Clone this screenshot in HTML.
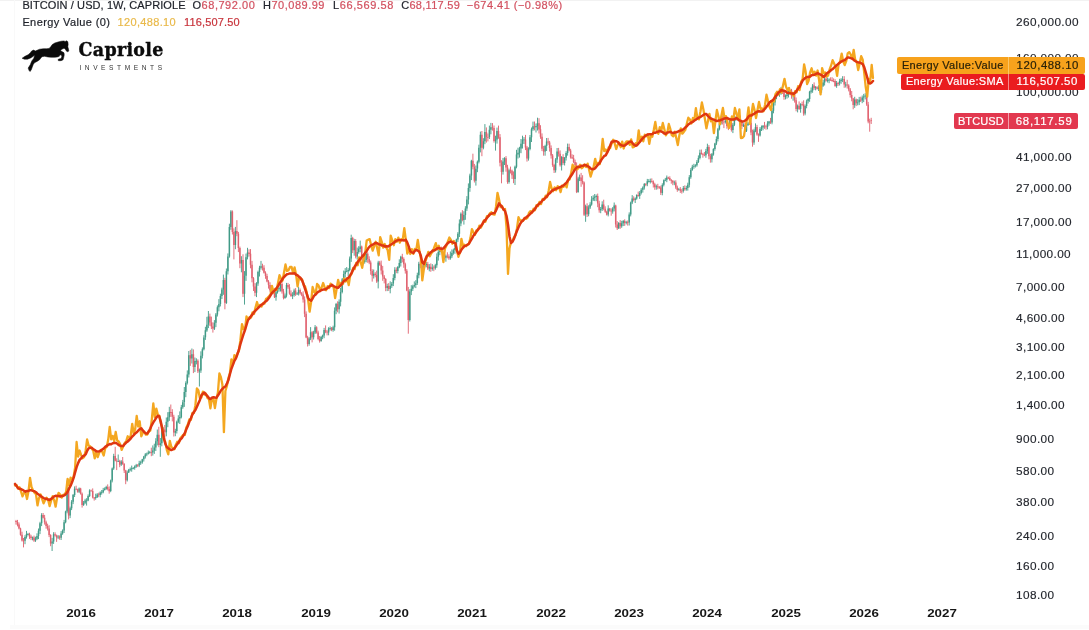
<!DOCTYPE html>
<html lang="en">
<head>
<meta charset="utf-8">
<title>BITCOIN / USD, 1W, CAPRIOLE</title>
<style>
html,body{margin:0;padding:0;background:#fff;}
body{width:1089px;height:630px;position:relative;overflow:hidden;font-family:"Liberation Sans",Arial,sans-serif;color:#1e222d;}
.chart{position:absolute;left:0;top:0;}
.t{position:absolute;white-space:nowrap;}
.leg{font-size:11px;line-height:14px;color:#1d2028;-webkit-text-stroke:0.2px;}
.leg .r{color:#d2505f;}
.leg .k{color:#23262f;}
.ax{font-size:11.8px;line-height:14px;color:#24272e;left:1016.1px;letter-spacing:0.37px;-webkit-text-stroke:0.15px;}
.yr{font-size:11.7px;line-height:14px;font-weight:bold;color:#161616;width:60px;text-align:center;transform:scaleX(1.14);transform-origin:50% 50%;}
.lab{position:absolute;border-radius:2px;font-size:11.4px;line-height:16px;height:16px;-webkit-text-stroke:0.2px;}
.lab span{position:absolute;top:0;white-space:nowrap;}
.vline{position:absolute;left:13.5px;top:0;width:1.5px;height:626px;background:#f9f9f9;}
.hline{position:absolute;left:10px;top:624.5px;width:1079px;height:4px;background:#fbfbfb;}
.tline{position:absolute;left:0;top:0;width:1089px;height:1px;background:#f2f2f2;}
</style>
</head>
<body>
<div class="tline"></div><div class="vline"></div><div class="hline"></div>
<svg class="chart" width="1089" height="630" viewBox="0 0 1089 630">
<g stroke-linecap="butt" style="filter:blur(0.35px)">
<path d="M25.0 535.2V544.2M26.5 530.9V538.6M28.0 532.9V535.5M32.5 536.6V540.3M35.5 536.7V541.9M37.0 533.3V540.1M38.5 528.5V539.1M40.0 521.8V534.1M41.6 513.2V526.1M52.1 537.9V551.0M53.6 532.2V543.9M58.1 535.0V539.1M61.1 531.1V540.0M62.6 529.4V534.8M64.1 519.9V533.0M65.6 510.7V523.3M67.1 480.5V513.3M70.1 506.6V518.1M71.6 500.1V510.1M73.1 494.2V504.1M74.6 486.4V497.0M79.1 487.5V493.0M83.6 501.0V505.9M85.1 498.8V504.1M86.6 498.2V505.6M88.1 494.4V501.2M89.6 489.3V497.0M95.7 493.7V499.7M97.2 493.1V498.0M100.2 491.4V497.3M101.7 490.0V494.6M103.2 487.9V493.3M104.7 487.4V490.6M106.2 485.8V489.8M110.7 479.6V492.2M112.2 467.5V482.4M113.7 453.8V469.9M118.2 454.5V462.0M121.2 460.1V466.0M127.2 470.6V481.5M128.7 468.9V473.0M130.2 467.5V471.3M131.7 465.6V471.7M133.2 467.0V469.3M134.7 465.4V469.7M136.2 463.9V467.8M139.2 460.8V467.1M140.7 460.7V464.9M142.3 458.8V463.7M143.8 455.9V461.5M145.3 453.1V458.5M146.8 452.6V456.2M148.3 450.5V454.5M149.8 450.9V453.7M152.8 445.4V455.6M154.3 443.7V453.9M155.8 438.2V451.0M157.3 429.5V445.4M160.3 438.0V456.8M161.8 428.8V446.3M163.3 427.4V431.9M166.3 417.5V436.3M167.8 412.2V427.2M169.3 406.8V420.9M175.3 428.8V436.2M176.8 420.6V433.5M178.3 415.2V423.2M179.8 411.4V424.0M181.3 404.9V418.4M182.8 399.9V408.8M184.3 387.0V406.9M185.8 381.3V397.2M187.3 370.4V384.5M188.8 351.0V377.5M191.9 348.5V363.5M194.9 357.5V372.1M196.4 358.3V364.4M199.4 368.6V386.5M200.9 351.3V372.9M202.4 347.4V358.4M203.9 335.2V350.4M205.4 326.8V339.9M206.9 316.8V331.9M208.4 311.0V328.1M214.4 320.1V330.0M215.9 313.0V327.1M217.4 305.4V316.5M218.9 299.1V311.3M220.4 293.7V306.4M221.9 287.7V299.0M223.4 274.6V294.8M226.4 268.5V303.9M227.9 253.4V274.5M229.4 223.7V257.7M230.9 210.1V229.8M235.4 226.9V249.2M241.4 256.2V272.3M244.5 271.1V304.6M246.0 253.6V280.9M247.5 247.8V259.4M256.5 282.2V297.1M258.0 270.7V285.8M259.5 265.8V276.5M261.0 260.9V269.6M276.0 289.3V300.7M277.5 287.8V293.6M279.0 286.7V291.6M280.5 281.8V291.5M285.0 293.5V298.8M286.5 282.9V297.5M292.6 292.2V299.1M294.1 288.7V296.7M297.1 292.1V295.0M298.6 286.8V295.5M309.1 337.1V345.7M310.6 327.1V340.1M313.6 330.8V339.5M315.1 325.1V334.0M321.1 335.9V341.8M322.6 334.6V339.2M324.1 327.9V338.2M328.6 327.2V335.3M330.1 326.4V330.6M333.1 325.7V331.7M334.6 307.4V330.7M336.1 302.9V314.2M339.1 299.4V313.6M340.6 287.9V306.4M342.2 278.0V293.4M343.7 270.6V284.3M345.2 268.1V277.7M346.7 267.1V272.3M348.2 268.2V276.2M349.7 256.5V271.3M351.2 234.7V261.9M354.2 238.8V255.7M357.2 247.6V259.6M358.7 246.2V253.7M360.2 240.6V252.3M364.7 255.7V263.6M366.2 251.7V262.3M373.7 269.5V278.5M378.2 260.8V288.4M387.2 283.7V291.1M390.2 281.3V293.3M391.8 282.0V287.9M393.3 274.2V286.1M394.8 267.2V280.3M397.8 266.1V273.4M399.3 259.3V268.2M400.8 255.8V266.5M409.8 289.2V321.5M411.3 285.2V295.1M412.8 284.7V290.9M414.3 281.4V287.5M415.8 280.2V288.1M417.3 272.7V284.9M418.8 261.8V278.3M423.3 263.9V273.9M424.8 261.4V267.2M426.3 262.0V267.3M429.3 264.1V271.3M432.3 264.1V270.7M435.3 263.8V269.7M436.8 253.4V267.8M438.3 250.1V260.6M439.8 248.6V255.2M445.9 254.5V261.7M450.4 251.5V259.7M451.9 249.4V258.1M453.4 248.6V254.7M454.9 244.7V253.8M456.4 238.6V251.3M457.9 232.1V241.9M459.4 219.4V237.0M460.9 212.4V226.2M463.9 211.2V224.6M465.4 206.2V219.8M466.9 196.1V210.9M468.4 183.4V204.4M469.9 173.7V191.8M471.4 159.8V180.1M475.9 165.5V185.6M477.4 160.5V172.2M478.9 144.7V163.4M480.4 131.6V152.4M483.4 138.2V149.3M484.9 124.1V144.2M489.4 125.6V139.0M490.9 122.9V134.3M495.5 135.7V150.6M497.0 127.6V143.6M503.0 157.9V174.6M504.5 157.2V165.0M509.0 168.7V183.6M515.0 165.6V185.0M516.5 149.8V168.3M518.0 147.7V158.5M519.5 146.8V157.6M521.0 139.0V153.2M522.5 135.7V148.5M524.0 137.1V144.0M528.5 147.3V160.6M530.0 135.0V150.3M531.5 127.5V142.0M533.0 121.6V130.8M536.0 123.5V132.5M537.5 117.7V130.5M545.1 144.8V155.7M546.6 138.0V151.0M555.6 158.1V172.6M557.1 148.0V162.9M561.6 156.1V170.5M564.6 157.0V165.5M566.1 151.2V160.5M567.6 143.6V155.6M578.1 176.8V192.8M579.6 174.6V181.1M585.6 204.7V221.8M588.6 205.3V216.3M590.1 202.2V209.0M591.6 196.1V205.7M593.2 195.3V201.0M594.7 194.0V201.1M596.2 194.5V201.2M600.7 207.0V213.2M602.2 201.3V210.9M608.2 205.3V216.4M612.7 207.1V213.7M614.2 202.5V211.4M618.7 222.1V229.0M621.7 220.8V227.8M623.2 220.0V226.1M626.2 220.8V224.4M629.2 212.4V225.5M630.7 201.6V216.4M632.2 195.1V204.1M635.2 197.4V203.0M636.7 194.3V199.7M639.7 191.1V198.9M641.2 188.1V194.5M642.8 186.4V192.6M644.3 183.0V189.6M647.3 178.9V186.2M648.8 179.1V182.5M650.3 178.6V183.5M656.3 184.6V189.7M662.3 183.3V195.3M663.8 179.4V186.4M665.3 177.9V181.2M666.8 175.5V182.2M674.3 180.6V185.2M678.8 187.9V190.7M683.3 186.0V192.6M686.3 185.8V190.7M687.8 182.7V190.6M689.3 175.1V187.4M690.8 168.1V178.8M692.3 164.8V170.8M693.9 163.8V168.8M695.4 164.2V167.5M696.9 160.1V166.7M698.4 155.4V163.0M699.9 149.7V159.4M705.9 148.9V157.8M707.4 143.7V153.8M711.9 153.0V162.5M713.4 148.2V155.7M714.9 142.8V150.7M716.4 136.4V145.1M717.9 127.9V141.4M719.4 121.6V130.4M720.9 118.3V124.9M725.4 116.8V123.5M729.9 118.2V127.5M732.9 123.0V133.1M734.4 116.0V126.1M735.9 116.2V120.9M743.5 123.3V127.0M746.5 124.0V132.0M748.0 122.0V126.0M749.5 117.3V124.6M754.0 128.8V144.8M755.5 123.4V132.2M760.0 127.1V136.5M761.5 125.5V131.0M763.0 125.1V130.3M767.5 121.2V129.3M769.0 120.9V125.7M772.0 108.0V124.3M773.5 101.3V113.3M775.0 95.6V105.5M776.5 91.1V99.2M779.5 91.1V96.8M781.0 86.9V94.9M785.5 94.5V99.4M787.0 92.2V98.6M788.5 88.4V97.5M790.0 89.7V92.4M793.1 92.5V100.7M797.6 104.5V112.4M800.6 103.2V112.7M805.1 104.5V115.3M806.6 99.6V108.3M808.1 98.2V103.5M809.6 90.8V101.8M811.1 87.5V93.5M812.6 84.0V92.8M815.6 86.1V90.3M818.6 85.2V91.0M821.6 85.1V92.7M823.1 79.9V86.9M824.6 76.0V85.5M827.6 77.5V82.5M829.1 78.3V83.2M836.6 81.0V87.8M839.6 78.8V85.5M841.1 78.2V83.8M842.6 76.2V82.1M845.7 81.8V87.5M854.7 96.8V107.9M857.7 99.1V105.4M859.2 96.9V105.1M862.2 95.5V103.2M863.7 93.9V102.1M865.2 93.2V99.4" stroke="#3f9a86" stroke-width="1" fill="none" opacity="0.9"/>
<path d="M25.0 537.1v3.7M26.5 534.0v3.1M28.0 534.0v0.8M32.5 537.5v0.8M35.5 538.7v1.7M37.0 536.0v2.7M38.5 530.7v5.3M40.0 523.3v7.4M41.6 515.1v8.2M52.1 541.4v2.2M53.6 534.3v7.1M58.1 536.4v1.0M61.1 533.5v4.3M62.6 530.5v3.0M64.1 522.3v8.2M65.6 511.6v10.7M67.1 487.8v23.8M70.1 508.3v7.2M71.6 501.7v6.6M73.1 494.8v6.9M74.6 488.8v6.1M79.1 488.4v3.4M83.6 502.8v2.2M85.1 500.6v2.2M86.6 500.5v0.8M88.1 496.0v4.5M89.6 490.5v5.5M95.7 497.1v0.8M97.2 494.4v2.8M100.2 492.4v2.7M101.7 492.3v0.8M103.2 490.0v2.3M104.7 488.7v1.3M106.2 486.9v1.8M110.7 480.6v10.5M112.2 468.4v12.2M113.7 456.1v12.3M118.2 461.0v0.8M121.2 461.4v3.2M127.2 472.5v7.8M128.7 469.7v2.8M130.2 469.3v0.8M131.7 468.2v1.1M133.2 467.9v0.8M134.7 466.4v1.5M136.2 465.3v1.1M139.2 463.2v2.4M140.7 462.3v0.9M142.3 459.3v3.0M143.8 456.5v2.8M145.3 454.6v1.9M146.8 453.8v0.8M148.3 452.6v1.1M149.8 451.9v0.8M152.8 450.5v2.1M154.3 447.5v3.0M155.8 441.3v6.3M157.3 434.8v6.5M160.3 443.3v1.7M161.8 430.5v12.8M163.3 429.6v0.9M166.3 421.8v10.5M167.8 417.2v4.6M169.3 412.1v5.1M175.3 431.0v1.7M176.8 421.8v9.2M178.3 418.6v3.2M179.8 417.1v1.4M181.3 407.2v10.0M182.8 402.2v5.0M184.3 392.1v10.0M185.8 383.0v9.1M187.3 374.5v8.5M188.8 355.2v19.4M191.9 354.3v4.3M194.9 361.0v5.9M196.4 360.8v0.8M199.4 370.6v0.8M200.9 355.7v14.8M202.4 349.3v6.5M203.9 337.4v11.9M205.4 330.3v7.0M206.9 324.8v5.6M208.4 316.4v8.4M214.4 322.8v5.9M215.9 314.4v8.4M217.4 307.2v7.2M218.9 304.1v3.1M220.4 295.9v8.2M221.9 289.4v6.5M223.4 279.9v9.5M226.4 271.2v31.7M227.9 256.6v14.6M229.4 227.0v29.6M230.9 211.6v15.4M235.4 230.9v14.1M241.4 260.0v3.4M244.5 275.9v17.9M246.0 257.2v18.6M247.5 252.5v4.8M256.5 283.6v9.2M258.0 272.1v11.4M259.5 267.8v4.3M261.0 266.3v1.5M276.0 292.3v5.0M277.5 289.3v3.0M279.0 288.1v1.1M280.5 284.0v4.1M285.0 295.6v2.5M286.5 285.0v10.6M292.6 294.9v1.0M294.1 290.5v4.4M297.1 293.5v0.8M298.6 289.9v3.7M309.1 338.4v5.7M310.6 332.3v6.1M313.6 332.5v4.8M315.1 327.3v5.2M321.1 337.0v4.0M322.6 335.4v1.5M324.1 329.9v5.6M328.6 328.5v3.9M330.1 328.2v0.8M333.1 327.2v2.7M334.6 310.7v16.5M336.1 303.9v6.8M339.1 301.7v7.6M340.6 291.9v9.8M342.2 279.3v12.6M343.7 274.1v5.2M345.2 271.3v2.8M346.7 271.2v0.8M348.2 269.9v1.3M349.7 258.5v11.4M351.2 237.9v20.6M354.2 241.1v9.2M357.2 252.0v4.4M358.7 248.8v3.1M360.2 246.6v2.3M364.7 259.9v2.0M366.2 253.8v6.1M373.7 273.8v2.0M378.2 262.4v19.1M387.2 285.9v2.0M390.2 285.7v3.3M391.8 283.7v2.0M393.3 278.0v5.6M394.8 269.8v8.3M397.8 267.1v3.9M399.3 263.0v4.2M400.8 256.7v6.2M409.8 291.5v28.5M411.3 288.8v2.7M412.8 286.2v2.6M414.3 284.9v1.3M415.8 283.2v1.8M417.3 275.2v7.9M418.8 263.7v11.5M423.3 265.6v4.5M424.8 265.1v0.8M426.3 264.0v1.1M429.3 266.7v1.8M432.3 267.4v1.6M435.3 265.3v2.9M436.8 256.8v8.5M438.3 252.0v4.8M439.8 250.3v1.7M445.9 255.8v2.0M450.4 256.3v2.0M451.9 252.9v3.4M453.4 250.2v2.7M454.9 248.0v2.1M456.4 239.6v8.4M457.9 233.8v5.8M459.4 223.6v10.2M460.9 213.8v9.8M463.9 215.0v5.0M465.4 208.5v6.5M466.9 199.4v9.1M468.4 187.9v11.5M469.9 175.5v12.4M471.4 160.8v14.7M475.9 168.7v12.1M477.4 161.8v6.8M478.9 147.7v14.1M480.4 134.7v13.0M483.4 141.3v6.5M484.9 132.1v9.2M489.4 129.8v7.3M490.9 127.3v2.5M495.5 139.6v1.6M497.0 130.9v8.7M503.0 161.5v10.3M504.5 158.3v3.2M509.0 170.2v11.9M515.0 166.8v12.3M516.5 154.6v12.2M518.0 152.7v1.9M519.5 148.6v4.1M521.0 143.8v4.7M522.5 139.8v4.0M524.0 139.5v0.8M528.5 149.1v9.4M530.0 137.3v11.8M531.5 129.2v8.1M533.0 126.2v3.0M536.0 126.0v1.3M537.5 123.2v2.8M545.1 146.1v5.3M546.6 141.5v4.6M555.6 159.6v10.6M557.1 151.4v8.2M561.6 157.1v8.1M564.6 157.7v5.3M566.1 152.9v4.9M567.6 147.0v5.9M578.1 178.4v13.6M579.6 177.5v0.9M585.6 206.3v8.3M588.6 207.5v6.8M590.1 204.4v3.1M591.6 199.5v4.9M593.2 197.7v1.8M594.7 196.8v0.9M596.2 196.1v0.8M600.7 209.0v1.2M602.2 204.4v4.5M608.2 208.6v6.0M612.7 208.5v2.9M614.2 205.5v2.9M618.7 223.1v5.1M621.7 223.3v3.0M623.2 220.9v2.4M626.2 222.2v0.8M629.2 214.5v7.9M630.7 202.4v12.1M632.2 198.5v3.9M635.2 198.4v1.7M636.7 195.0v3.4M639.7 193.1v2.9M641.2 189.7v3.4M642.8 187.5v2.2M644.3 184.0v3.5M647.3 181.2v3.0M648.8 181.0v0.8M650.3 180.9v0.8M656.3 186.2v1.1M662.3 184.9v8.0M663.8 180.2v4.6M665.3 179.8v0.8M666.8 177.6v2.2M674.3 182.4v0.8M678.8 189.3v0.8M683.3 187.9v3.2M686.3 188.1v1.1M687.8 184.8v3.3M689.3 177.2v7.6M690.8 170.0v7.2M692.3 166.7v3.3M693.9 166.0v0.8M695.4 165.3v0.8M696.9 162.0v3.2M698.4 158.0v4.0M699.9 152.7v5.3M705.9 151.0v4.3M707.4 146.9v4.1M711.9 154.3v5.0M713.4 149.0v5.4M714.9 143.5v5.4M716.4 138.9v4.6M717.9 129.2v9.7M719.4 123.7v5.5M720.9 120.1v3.5M725.4 120.8v1.1M729.9 121.0v5.0M732.9 124.7v5.2M734.4 118.5v6.2M735.9 117.7v0.9M743.5 125.1v1.2M746.5 125.0v5.7M748.0 123.5v1.4M749.5 122.8v0.8M754.0 130.4v12.0M755.5 127.0v3.4M760.0 129.0v6.5M761.5 127.5v1.5M763.0 125.8v1.7M767.5 123.5v3.5M769.0 121.6v1.9M772.0 110.8v11.7M773.5 102.6v8.2M775.0 97.1v5.5M776.5 93.0v4.1M779.5 93.2v0.8M781.0 89.7v3.5M785.5 95.9v1.2M787.0 94.5v1.4M788.5 90.9v3.6M790.0 90.5v0.8M793.1 94.9v0.8M797.6 105.7v3.4M800.6 103.9v5.1M805.1 105.9v7.7M806.6 101.4v4.5M808.1 99.0v2.3M809.6 91.7v7.3M811.1 90.6v1.1M812.6 85.6v5.0M815.6 87.2v0.8M818.6 87.6v1.2M821.6 85.8v4.4M823.1 82.4v3.4M824.6 78.7v3.7M827.6 80.1v0.8M829.1 79.6v0.8M836.6 83.1v2.9M839.6 81.1v2.1M841.1 79.8v1.3M842.6 78.9v0.9M845.7 84.6v0.8M854.7 99.4v5.8M857.7 102.4v0.9M859.2 99.7v2.6M862.2 97.6v2.9M863.7 96.5v1.1M865.2 95.4v1.1" stroke="#3f9a86" stroke-width="1.5" fill="none" opacity="0.95"/>
<path d="M16.0 519.9V524.6M17.5 519.9V526.4M19.0 522.5V529.4M20.5 527.7V535.7M22.0 531.7V541.5M23.5 538.0V547.4M29.5 532.8V538.9M31.0 534.8V540.1M34.0 535.6V541.9M43.1 513.0V518.5M44.6 514.9V524.6M46.1 520.7V528.7M47.6 523.7V530.5M49.1 525.2V537.1M50.6 534.2V546.2M55.1 532.3V536.6M56.6 534.6V541.9M59.6 535.4V539.7M68.6 487.2V519.4M76.1 485.7V490.1M77.6 488.7V492.7M80.6 487.8V494.6M82.1 492.5V507.6M91.1 489.6V491.6M92.7 488.4V498.4M94.2 497.0V500.6M98.7 492.7V497.2M107.7 484.4V490.4M109.2 486.4V493.7M115.2 446.8V461.4M116.7 458.3V470.1M119.7 459.8V467.2M122.7 457.0V464.9M124.2 463.1V473.0M125.7 469.8V484.2M137.7 464.1V467.1M151.3 447.7V456.2M158.8 426.8V447.2M164.8 425.0V439.0M170.8 404.5V416.9M172.3 409.2V421.4M173.8 414.8V436.5M190.3 349.9V365.9M193.4 349.4V373.1M197.9 359.3V373.0M209.9 313.6V325.9M211.4 316.6V329.1M212.9 322.3V332.6M224.9 277.8V309.3M232.4 210.4V234.5M233.9 228.4V259.4M236.9 220.2V236.2M238.4 231.9V252.1M239.9 246.6V268.2M243.0 254.3V297.1M249.0 249.3V256.5M250.5 249.1V268.3M252.0 260.9V282.3M253.5 277.1V291.0M255.0 283.1V296.2M262.5 263.7V270.5M264.0 265.2V273.6M265.5 271.3V278.8M267.0 273.8V282.3M268.5 280.1V288.6M270.0 282.3V291.8M271.5 288.0V294.0M273.0 288.8V294.3M274.5 289.4V298.0M282.0 281.0V293.6M283.5 288.9V299.4M288.0 282.9V288.9M289.5 284.2V294.7M291.0 290.4V296.9M295.6 288.1V295.9M300.1 288.5V294.7M301.6 292.1V296.2M303.1 291.3V302.6M304.6 296.4V317.1M306.1 311.4V338.2M307.6 335.8V346.5M312.1 331.0V342.4M316.6 326.3V333.6M318.1 330.7V340.2M319.6 336.0V342.6M325.6 325.4V333.2M327.1 330.2V335.4M331.6 327.0V331.2M337.6 301.3V312.3M352.7 236.8V253.1M355.7 239.1V258.4M361.7 245.6V260.4M363.2 255.3V263.8M367.7 252.2V262.8M369.2 256.3V264.2M370.7 260.5V274.7M372.2 269.2V281.6M375.2 272.1V277.3M376.7 270.6V282.9M379.7 260.9V265.8M381.2 260.6V274.5M382.7 265.9V280.8M384.2 275.0V283.4M385.7 278.1V291.2M388.7 283.1V290.9M396.3 267.4V273.2M402.3 253.8V262.4M403.8 257.4V267.8M405.3 262.7V273.6M406.8 269.1V291.2M408.3 286.9V333.7M420.3 260.7V268.2M421.8 264.3V274.9M427.8 261.9V270.0M430.8 263.4V271.8M433.8 265.5V271.2M441.3 246.6V252.8M442.9 248.6V256.6M444.4 252.4V259.5M447.4 252.3V258.3M448.9 254.3V259.8M462.4 210.2V221.3M472.9 153.7V169.3M474.4 163.9V182.5M481.9 131.0V156.2M486.4 127.4V142.6M487.9 133.5V141.4M492.5 123.1V130.6M494.0 125.5V142.6M498.5 125.6V138.8M500.0 134.1V166.4M501.5 160.2V183.3M506.0 156.1V171.7M507.5 164.8V183.8M510.5 166.6V173.5M512.0 169.6V178.9M513.5 171.4V183.2M525.5 134.9V150.1M527.0 145.9V161.6M534.5 121.5V130.4M539.0 118.2V133.5M540.5 125.2V138.8M542.0 133.4V151.1M543.6 145.9V155.7M548.1 137.9V144.8M549.6 140.9V151.6M551.1 145.4V158.6M552.6 154.0V166.8M554.1 163.8V173.0M558.6 147.9V156.6M560.1 150.4V166.6M563.1 154.2V164.8M569.1 143.7V151.4M570.6 148.8V158.6M572.1 154.3V159.0M573.6 154.9V163.1M575.1 159.6V167.5M576.6 162.4V193.1M581.1 172.9V186.8M582.6 175.2V184.4M584.1 181.5V216.0M587.1 203.3V217.0M597.7 193.6V207.2M599.2 200.8V212.7M603.7 199.7V210.3M605.2 206.3V212.9M606.7 210.7V215.5M609.7 207.9V211.6M611.2 208.3V215.7M615.7 204.7V227.5M617.2 221.1V230.0M620.2 220.1V228.8M624.7 219.3V225.9M627.7 220.5V225.6M633.7 196.3V201.4M638.2 191.6V196.7M645.8 183.2V186.1M651.8 178.4V182.6M653.3 180.4V187.5M654.8 182.8V189.8M657.8 183.8V189.3M659.3 186.0V188.9M660.8 185.6V195.0M668.3 176.7V179.1M669.8 176.3V180.9M671.3 179.1V183.7M672.8 180.1V185.2M675.8 180.3V189.1M677.3 185.6V191.8M680.3 187.1V192.9M681.8 188.8V193.6M684.8 185.4V190.7M701.4 149.5V154.7M702.9 152.9V157.7M704.4 152.0V156.2M708.9 145.1V159.3M710.4 153.8V162.7M722.4 115.3V124.5M723.9 119.9V128.1M726.9 118.0V128.7M728.4 124.5V130.1M731.4 118.7V131.6M737.4 115.3V120.4M738.9 114.8V121.2M740.4 115.6V124.6M741.9 120.6V129.1M745.0 122.7V132.0M751.0 120.5V135.2M752.5 129.6V146.7M757.0 124.9V135.7M758.5 133.4V141.9M764.5 121.9V128.8M766.0 124.8V129.7M770.5 117.9V123.9M778.0 90.8V95.5M782.5 88.4V93.9M784.0 89.6V99.8M791.5 88.9V98.7M794.6 91.8V102.6M796.1 97.5V111.3M799.1 101.4V110.0M802.1 101.6V106.2M803.6 100.3V115.7M814.1 82.4V89.8M817.1 86.2V89.5M820.1 86.7V93.1M826.1 76.1V81.6M830.6 77.3V80.8M832.1 77.2V81.8M833.6 78.4V82.2M835.1 79.2V86.8M838.1 82.0V85.9M844.2 76.2V87.8M847.2 79.8V88.5M848.7 84.2V91.4M850.2 88.0V97.5M851.7 91.0V101.3M853.2 97.9V109.3M856.2 98.6V106.1M860.7 96.7V102.0M866.7 94.2V105.9M868.2 101.9V123.3M869.7 118.7V131.7M871.2 117.8V124.0" stroke="#e0606e" stroke-width="1" fill="none" opacity="0.9"/>
<path d="M16.0 521.0v1.1M17.5 522.1v2.6M19.0 524.6v4.0M20.5 528.6v6.1M22.0 534.8v5.7M23.5 540.5v0.8M29.5 534.0v2.6M31.0 536.6v1.3M34.0 537.5v2.9M43.1 515.1v2.6M44.6 517.7v4.6M46.1 522.3v3.8M47.6 526.0v2.5M49.1 528.5v6.6M50.6 535.1v8.4M55.1 534.3v1.2M56.6 535.5v1.9M59.6 536.4v1.4M68.6 487.8v27.8M76.1 488.8v0.8M77.6 489.3v2.5M80.6 488.4v5.4M82.1 493.8v11.3M91.1 490.5v0.8M92.7 491.0v6.6M94.2 497.6v0.8M98.7 494.4v0.8M107.7 486.9v2.0M109.2 489.0v2.2M115.2 456.1v4.7M116.7 460.7v0.8M119.7 461.0v3.7M122.7 461.4v2.6M124.2 464.0v6.6M125.7 470.6v9.6M137.7 465.3v0.8M151.3 451.9v0.8M158.8 434.8v10.2M164.8 429.6v2.7M170.8 412.1v0.8M172.3 412.2v4.5M173.8 416.7v15.9M190.3 355.2v3.4M193.4 354.3v12.6M197.9 360.8v10.4M209.9 316.4v6.1M211.4 322.5v4.0M212.9 326.5v2.1M224.9 279.9v22.9M232.4 211.6v20.4M233.9 232.0v12.9M236.9 230.9v2.8M238.4 233.7v14.2M239.9 247.9v15.6M243.0 260.0v33.7M249.0 252.5v1.4M250.5 253.8v10.9M252.0 264.8v13.4M253.5 278.2v8.3M255.0 286.4v6.3M262.5 266.3v1.4M264.0 267.7v5.0M265.5 272.7v3.4M267.0 276.0v5.5M268.5 281.5v3.3M270.0 284.9v5.4M271.5 290.2v1.7M273.0 292.0v0.8M274.5 292.7v4.6M282.0 284.0v7.5M283.5 291.5v6.5M288.0 285.0v2.3M289.5 287.2v6.2M291.0 293.5v2.4M295.6 290.5v3.7M300.1 289.9v3.4M301.6 293.3v1.2M303.1 294.4v5.2M304.6 299.6v14.1M306.1 313.7v23.7M307.6 337.4v6.6M312.1 332.3v5.0M316.6 327.3v5.2M318.1 332.5v6.5M319.6 339.0v1.9M325.6 329.9v1.8M327.1 331.7v0.8M331.6 328.2v1.8M337.6 303.9v5.4M352.7 237.9v12.4M355.7 241.1v15.3M361.7 246.6v11.1M363.2 257.7v4.2M367.7 253.8v5.2M369.2 259.1v3.5M370.7 262.6v8.3M372.2 270.9v4.9M375.2 273.8v1.1M376.7 274.9v6.6M379.7 262.4v2.3M381.2 264.7v5.7M382.7 270.4v6.2M384.2 276.6v2.5M385.7 279.1v8.8M388.7 285.9v3.1M396.3 269.8v1.2M402.3 256.7v2.2M403.8 259.0v5.2M405.3 264.2v6.5M406.8 270.7v19.8M408.3 290.4v29.6M420.3 263.7v1.6M421.8 265.2v4.9M427.8 264.0v4.6M430.8 266.7v2.3M433.8 267.4v0.8M441.3 250.3v1.4M442.9 251.8v1.5M444.4 253.3v4.6M447.4 255.8v0.8M448.9 256.4v1.9M462.4 213.8v6.2M472.9 160.8v5.9M474.4 166.7v14.1M481.9 134.7v13.0M486.4 132.1v4.9M487.9 137.0v0.8M492.5 127.3v0.8M494.0 128.0v13.1M498.5 130.9v6.5M500.0 137.3v25.5M501.5 162.9v9.0M506.0 158.3v9.3M507.5 167.6v14.5M510.5 170.2v0.8M512.0 170.7v4.6M513.5 175.3v3.8M525.5 139.5v8.0M527.0 147.5v11.1M534.5 126.2v1.1M539.0 123.2v6.2M540.5 129.3v7.4M542.0 136.7v12.0M543.6 148.7v2.7M548.1 141.5v1.0M549.6 142.6v5.5M551.1 148.1v7.5M552.6 155.6v9.3M554.1 164.9v5.3M558.6 151.4v2.4M560.1 153.7v11.5M563.1 157.1v5.9M569.1 147.0v3.6M570.6 150.6v6.6M572.1 157.2v1.0M573.6 158.2v3.7M575.1 162.0v3.4M576.6 165.3v26.6M581.1 177.5v3.4M582.6 180.9v1.5M584.1 182.5v32.2M587.1 206.3v8.0M597.7 196.1v7.3M599.2 203.4v6.8M603.7 204.4v4.3M605.2 208.7v3.1M606.7 211.8v2.9M609.7 208.6v2.2M611.2 210.8v0.8M615.7 205.5v18.9M617.2 224.4v3.8M620.2 223.1v3.2M624.7 220.9v2.0M627.7 222.2v0.8M633.7 198.5v1.6M638.2 195.0v1.0M645.8 184.0v0.8M651.8 180.9v0.8M653.3 181.6v2.6M654.8 184.2v3.1M657.8 186.2v1.1M659.3 187.3v0.8M660.8 187.6v5.2M668.3 177.6v0.8M669.8 178.0v2.0M671.3 180.0v0.8M672.8 180.8v1.7M675.8 182.4v5.2M677.3 187.6v2.5M680.3 189.3v1.4M681.8 190.8v0.8M684.8 187.9v1.3M701.4 152.7v1.2M702.9 153.9v0.9M704.4 154.8v0.8M708.9 146.9v9.3M710.4 156.2v3.1M722.4 120.1v1.7M723.9 121.8v0.8M726.9 120.8v5.1M728.4 125.9v0.8M731.4 121.0v8.9M737.4 117.7v0.8M738.9 117.8v0.8M740.4 118.4v3.3M741.9 121.6v4.7M745.0 125.1v5.6M751.0 122.8v9.8M752.5 132.6v9.8M757.0 127.0v7.4M758.5 134.4v1.1M764.5 125.8v0.8M766.0 126.4v0.8M770.5 121.6v0.8M778.0 93.0v0.8M782.5 89.7v2.2M784.0 91.9v5.2M791.5 90.5v5.2M794.6 94.9v5.5M796.1 100.3v8.7M799.1 105.7v3.3M802.1 103.9v0.8M803.6 104.6v9.0M814.1 85.6v2.3M817.1 87.2v1.6M820.1 87.6v2.6M826.1 78.7v2.0M830.6 79.6v0.8M832.1 80.1v0.8M833.6 81.0v0.8M835.1 81.1v4.9M838.1 83.1v0.8M844.2 78.9v5.7M847.2 84.6v1.0M848.7 85.6v3.9M850.2 89.6v5.5M851.7 95.1v3.4M853.2 98.5v6.6M856.2 99.4v3.9M860.7 99.7v0.8M866.7 95.4v9.2M868.2 104.6v16.8M869.7 121.5v0.8M871.2 120.3v0.8" stroke="#e0606e" stroke-width="1.5" fill="none" opacity="0.95"/>
</g>
<path d="M15.0 485.5 L16.5 485.0 L18.0 488.6 L19.5 487.2 L21.0 491.5 L22.5 496.3 L24.0 492.6 L25.5 492.4 L27.0 499.0 L28.5 491.3 L30.0 477.8 L31.5 486.9 L33.0 490.2 L34.5 492.8 L36.0 494.3 L37.5 505.4 L39.0 498.1 L40.6 494.5 L42.1 498.8 L43.6 503.3 L45.1 500.1 L46.6 497.7 L48.1 499.8 L49.6 506.1 L51.1 500.7 L52.6 496.3 L54.1 500.1 L55.6 506.7 L57.1 497.6 L58.6 492.9 L60.1 494.5 L61.6 497.6 L63.1 494.8 L64.6 494.5 L66.1 491.9 L67.6 478.8 L69.1 485.5 L70.6 477.6 L72.1 479.5 L73.6 476.8 L75.1 467.8 L76.6 442.0 L78.1 456.7 L79.6 450.5 L81.1 454.9 L82.6 458.2 L84.1 457.0 L85.6 450.9 L87.1 439.4 L88.6 445.6 L90.2 446.3 L91.7 448.7 L93.2 450.5 L94.7 458.4 L96.2 452.1 L97.7 457.1 L99.2 452.8 L100.7 450.0 L102.2 451.9 L103.7 455.5 L105.2 448.2 L106.7 446.9 L108.2 439.8 L109.7 426.8 L111.2 439.3 L112.7 435.9 L114.2 441.2 L115.7 431.9 L117.2 440.5 L118.7 441.5 L120.2 444.4 L121.7 449.9 L123.2 446.2 L124.7 443.0 L126.2 441.2 L127.7 436.3 L129.2 437.6 L130.7 435.9 L132.2 423.8 L133.7 433.4 L135.2 429.1 L136.7 415.9 L138.2 426.5 L139.7 421.3 L141.3 436.3 L142.8 432.9 L144.3 431.7 L145.8 434.6 L147.3 434.6 L148.8 431.5 L150.3 430.5 L151.8 419.6 L153.3 403.5 L154.8 417.0 L156.3 408.6 L157.8 414.6 L159.3 415.7 L160.8 423.1 L162.3 427.3 L163.8 439.0 L165.3 442.0 L166.8 449.8 L168.3 454.3 L169.8 440.9 L171.3 446.9 L172.8 447.9 L174.3 449.3 L175.8 444.7 L177.3 441.8 L178.8 443.2 L180.3 438.2 L181.8 436.6 L183.3 434.7 L184.8 434.9 L186.3 427.5 L187.8 424.6 L189.3 419.5 L190.9 419.8 L192.4 413.0 L193.9 413.0 L195.4 405.2 L196.9 388.3 L198.4 390.5 L199.9 398.4 L201.4 397.4 L202.9 391.6 L204.4 394.6 L205.9 393.8 L207.4 397.8 L208.9 399.1 L210.4 408.4 L211.9 399.3 L213.4 398.3 L214.9 408.0 L216.4 398.9 L217.9 392.6 L219.4 373.3 L220.9 377.1 L222.4 384.7 L223.9 432.1 L225.4 391.0 L226.9 386.0 L228.4 378.0 L229.9 373.2 L231.4 359.5 L232.9 364.6 L234.4 355.1 L235.9 357.5 L237.4 353.3 L238.9 351.0 L240.4 340.2 L242.0 324.2 L243.5 329.2 L245.0 329.6 L246.5 316.5 L248.0 319.7 L249.5 317.1 L251.0 317.6 L252.5 312.4 L254.0 314.0 L255.5 307.5 L257.0 302.0 L258.5 307.4 L260.0 304.9 L261.5 306.6 L263.0 303.1 L264.5 303.6 L266.0 299.0 L267.5 297.8 L269.0 296.3 L270.5 294.4 L272.0 286.0 L273.5 292.5 L275.0 288.9 L276.5 289.8 L278.0 282.9 L279.5 275.2 L281.0 278.4 L282.5 280.6 L284.0 272.7 L285.5 264.5 L287.0 271.0 L288.5 270.2 L290.0 267.0 L291.6 266.9 L293.1 273.2 L294.6 267.4 L296.1 274.9 L297.6 286.4 L299.1 277.2 L300.6 279.3 L302.1 279.5 L303.6 284.7 L305.1 286.5 L306.6 291.9 L308.1 299.8 L309.6 311.7 L311.1 302.0 L312.6 287.0 L314.1 291.7 L315.6 293.7 L317.1 283.9 L318.6 285.6 L320.1 290.1 L321.6 287.5 L323.1 283.0 L324.6 287.2 L326.1 290.2 L327.6 286.2 L329.1 288.1 L330.6 283.6 L332.1 286.0 L333.6 286.8 L335.1 298.0 L336.6 289.3 L338.1 279.9 L339.6 285.8 L341.2 282.8 L342.7 284.2 L344.2 278.5 L345.7 281.5 L347.2 278.1 L348.7 285.1 L350.2 275.6 L351.7 273.5 L353.2 267.9 L354.7 269.0 L356.2 262.8 L357.7 265.2 L359.2 257.3 L360.7 262.1 L362.2 267.8 L363.7 258.9 L365.2 252.7 L366.7 240.5 L368.2 239.7 L369.7 239.2 L371.2 245.6 L372.7 250.6 L374.2 246.1 L375.7 241.8 L377.2 248.3 L378.7 255.3 L380.2 237.1 L381.7 241.6 L383.2 247.6 L384.7 244.0 L386.2 247.5 L387.7 250.3 L389.2 259.9 L390.7 235.6 L392.3 240.4 L393.8 245.2 L395.3 239.2 L396.8 241.8 L398.3 237.7 L399.8 242.6 L401.3 239.1 L402.8 239.1 L404.3 228.1 L405.8 239.7 L407.3 253.6 L408.8 248.5 L410.3 254.0 L411.8 249.2 L413.3 253.9 L414.8 248.9 L416.3 249.7 L417.8 239.9 L419.3 250.2 L420.8 258.0 L422.3 280.3 L423.8 269.7 L425.3 261.8 L426.8 257.2 L428.3 251.8 L429.8 256.3 L431.3 253.2 L432.8 251.7 L434.3 247.1 L435.8 243.1 L437.3 249.4 L438.8 245.8 L440.3 250.4 L441.9 250.7 L443.4 262.2 L444.9 248.6 L446.4 245.7 L447.9 241.5 L449.4 237.5 L450.9 239.9 L452.4 243.8 L453.9 240.9 L455.4 243.9 L456.9 250.4 L458.4 256.8 L459.9 252.7 L461.4 238.8 L462.9 245.8 L464.4 244.7 L465.9 246.3 L467.4 244.6 L468.9 244.1 L470.4 238.1 L471.9 229.1 L473.4 232.3 L474.9 234.9 L476.4 230.3 L477.9 230.4 L479.4 225.6 L480.9 227.5 L482.4 224.5 L483.9 220.4 L485.4 221.8 L486.9 216.2 L488.4 216.4 L489.9 213.2 L491.5 212.3 L493.0 214.4 L494.5 214.7 L496.0 206.7 L497.5 192.8 L499.0 199.2 L500.5 207.0 L502.0 206.0 L503.5 209.7 L505.0 208.9 L506.5 227.3 L508.0 273.9 L509.5 248.2 L511.0 242.0 L512.5 240.7 L514.0 237.2 L515.5 235.3 L517.0 228.2 L518.5 217.2 L520.0 220.4 L521.5 220.4 L523.0 220.9 L524.5 217.9 L526.0 218.8 L527.5 217.8 L529.0 212.7 L530.5 211.1 L532.0 212.7 L533.5 208.8 L535.0 210.0 L536.5 205.1 L538.0 206.1 L539.5 201.9 L541.0 204.1 L542.6 199.0 L544.1 199.8 L545.6 195.8 L547.1 197.0 L548.6 191.0 L550.1 181.9 L551.6 188.4 L553.1 191.2 L554.6 187.4 L556.1 190.2 L557.6 186.3 L559.1 187.1 L560.6 192.1 L562.1 185.6 L563.6 186.7 L565.1 183.8 L566.6 187.4 L568.1 179.9 L569.6 179.4 L571.1 173.4 L572.6 164.6 L574.1 170.0 L575.6 166.3 L577.1 169.3 L578.6 167.9 L580.1 164.7 L581.6 168.2 L583.1 167.1 L584.6 164.4 L586.1 167.0 L587.6 163.6 L589.1 169.7 L590.6 176.6 L592.2 171.3 L593.7 166.2 L595.2 158.8 L596.7 166.1 L598.2 162.8 L599.7 164.3 L601.2 154.1 L602.7 138.9 L604.2 151.0 L605.7 149.5 L607.2 152.7 L608.7 147.3 L610.2 148.0 L611.7 143.5 L613.2 139.7 L614.7 143.5 L616.2 149.0 L617.7 144.7 L619.2 142.8 L620.7 147.2 L622.2 141.6 L623.7 148.5 L625.2 143.2 L626.7 141.3 L628.2 141.3 L629.7 144.9 L631.2 139.4 L632.7 147.4 L634.2 146.8 L635.7 143.2 L637.2 143.6 L638.7 130.3 L640.2 141.5 L641.8 136.7 L643.3 141.3 L644.8 134.7 L646.3 136.2 L647.8 134.5 L649.3 143.9 L650.8 135.3 L652.3 136.7 L653.8 129.8 L655.3 121.9 L656.8 131.3 L658.3 133.7 L659.8 127.1 L661.3 130.7 L662.8 122.9 L664.3 129.0 L665.8 135.3 L667.3 132.9 L668.8 124.0 L670.3 128.9 L671.8 135.2 L673.3 136.4 L674.8 131.7 L676.3 138.1 L677.8 145.1 L679.3 135.8 L680.8 128.3 L682.3 133.7 L683.8 131.9 L685.3 129.9 L686.8 123.7 L688.3 117.7 L689.8 119.3 L691.4 123.5 L692.9 118.0 L694.4 119.6 L695.9 108.1 L697.4 118.4 L698.9 119.3 L700.4 111.8 L701.9 102.5 L703.4 109.5 L704.9 119.0 L706.4 128.4 L707.9 121.2 L709.4 113.8 L710.9 121.3 L712.4 119.4 L713.9 133.0 L715.4 121.2 L716.9 110.0 L718.4 116.2 L719.9 124.3 L721.4 115.7 L722.9 108.0 L724.4 117.7 L725.9 116.1 L727.4 121.8 L728.9 128.0 L730.4 124.0 L731.9 116.5 L733.4 119.6 L734.9 108.0 L736.4 113.6 L737.9 117.8 L739.4 109.4 L740.9 138.0 L742.5 137.8 L744.0 136.0 L745.5 126.4 L747.0 119.6 L748.5 107.4 L750.0 124.0 L751.5 114.0 L753.0 104.0 L754.5 109.7 L756.0 118.0 L757.5 110.0 L759.0 102.0 L760.5 108.8 L762.0 108.3 L763.5 111.3 L765.0 105.0 L766.5 94.7 L768.0 101.1 L769.5 106.7 L771.0 110.0 L772.5 100.3 L774.0 101.4 L775.5 94.1 L777.0 91.8 L778.5 94.4 L780.0 89.1 L781.5 92.6 L783.0 85.6 L784.5 78.8 L786.0 86.6 L787.5 90.1 L789.0 88.0 L790.5 93.6 L792.1 92.9 L793.6 96.1 L795.1 91.2 L796.6 92.4 L798.1 86.2 L799.6 90.1 L801.1 81.9 L802.6 79.2 L804.1 64.3 L805.6 71.6 L807.1 84.0 L808.6 80.7 L810.1 72.3 L811.6 68.3 L813.1 74.0 L814.6 71.7 L816.1 75.6 L817.6 70.5 L819.1 80.0 L820.6 94.4 L822.1 68.1 L823.6 73.1 L825.1 72.5 L826.6 76.5 L828.1 75.6 L829.6 69.4 L831.1 65.5 L832.6 60.2 L834.1 63.5 L835.6 66.7 L837.1 75.9 L838.6 64.3 L840.1 61.6 L841.7 53.6 L843.2 61.3 L844.7 65.1 L846.2 61.2 L847.7 53.4 L849.2 52.1 L850.7 54.5 L852.2 58.9 L853.7 49.8 L855.2 59.8 L856.7 61.7 L858.2 70.0 L859.7 63.3 L861.2 56.1 L862.7 59.7 L864.2 72.7 L865.7 86.8 L867.2 96.7 L868.7 79.0 L870.2 81.0 L871.7 64.9 L873.0 78.0" fill="none" stroke="#f4a720" stroke-width="2.3" stroke-linejoin="round" stroke-linecap="round"/>
<path d="M15.0 483.9 L16.5 485.9 L18.0 488.1 L19.5 488.8 L21.0 489.1 L22.5 489.8 L24.0 490.7 L25.5 491.7 L27.0 491.0 L28.5 490.9 L30.0 490.2 L31.5 490.3 L33.0 490.9 L34.5 491.3 L36.0 492.2 L37.5 493.8 L39.0 494.7 L40.6 495.9 L42.1 497.0 L43.6 498.1 L45.1 498.7 L46.6 498.8 L48.1 499.6 L49.6 499.9 L51.1 498.9 L52.6 497.7 L54.1 496.4 L55.6 495.8 L57.1 496.1 L58.6 496.1 L60.1 496.4 L61.6 496.1 L63.1 496.0 L64.6 495.2 L66.1 493.9 L67.6 491.7 L69.1 488.5 L70.6 485.7 L72.1 482.1 L73.6 477.9 L75.1 472.4 L76.6 467.1 L78.1 463.1 L79.6 459.9 L81.1 458.4 L82.6 456.4 L84.1 455.7 L85.6 454.4 L87.1 450.9 L88.6 448.3 L90.2 447.7 L91.7 447.8 L93.2 449.1 L94.7 450.0 L96.2 451.3 L97.7 451.4 L99.2 451.2 L100.7 450.8 L102.2 449.6 L103.7 448.5 L105.2 446.9 L106.7 445.9 L108.2 444.9 L109.7 444.1 L111.2 444.2 L112.7 443.3 L114.2 443.1 L115.7 442.9 L117.2 443.6 L118.7 445.0 L120.2 445.7 L121.7 446.1 L123.2 446.1 L124.7 444.1 L126.2 442.6 L127.7 441.5 L129.2 440.0 L130.7 438.5 L132.2 436.6 L133.7 435.1 L135.2 433.4 L136.7 432.3 L138.2 430.7 L139.7 429.2 L141.3 428.3 L142.8 430.4 L144.3 432.1 L145.8 433.4 L147.3 433.4 L148.8 431.3 L150.3 428.5 L151.8 425.1 L153.3 422.4 L154.8 420.1 L156.3 417.6 L157.8 415.8 L159.3 416.5 L160.8 421.8 L162.3 429.8 L163.8 437.7 L165.3 443.7 L166.8 447.0 L168.3 448.4 L169.8 449.2 L171.3 450.1 L172.8 449.4 L174.3 448.7 L175.8 446.3 L177.3 444.1 L178.8 442.0 L180.3 439.6 L181.8 438.1 L183.3 435.6 L184.8 433.1 L186.3 429.3 L187.8 426.0 L189.3 421.8 L190.9 418.2 L192.4 414.5 L193.9 412.0 L195.4 410.0 L196.9 406.8 L198.4 403.3 L199.9 399.9 L201.4 395.4 L202.9 393.6 L204.4 392.6 L205.9 394.4 L207.4 396.1 L208.9 398.1 L210.4 399.1 L211.9 397.7 L213.4 397.2 L214.9 397.5 L216.4 397.7 L217.9 395.6 L219.4 393.1 L220.9 390.5 L222.4 388.9 L223.9 387.4 L225.4 386.5 L226.9 383.7 L228.4 380.1 L229.9 374.3 L231.4 368.7 L232.9 364.9 L234.4 360.9 L235.9 358.4 L237.4 354.4 L238.9 349.7 L240.4 344.1 L242.0 339.0 L243.5 334.2 L245.0 330.0 L246.5 324.8 L248.0 320.0 L249.5 318.3 L251.0 316.1 L252.5 314.4 L254.0 312.2 L255.5 310.6 L257.0 309.2 L258.5 307.5 L260.0 306.1 L261.5 304.6 L263.0 304.0 L264.5 302.2 L266.0 301.3 L267.5 299.8 L269.0 297.8 L270.5 295.3 L272.0 292.8 L273.5 291.4 L275.0 290.2 L276.5 288.2 L278.0 286.3 L279.5 283.4 L281.0 281.3 L282.5 279.0 L284.0 277.0 L285.5 275.5 L287.0 274.3 L288.5 273.9 L290.0 273.4 L291.6 273.6 L293.1 273.4 L294.6 273.2 L296.1 274.8 L297.6 275.3 L299.1 276.8 L300.6 278.0 L302.1 280.4 L303.6 284.3 L305.1 289.0 L306.6 293.4 L308.1 298.0 L309.6 299.9 L311.1 300.7 L312.6 298.5 L314.1 295.7 L315.6 294.6 L317.1 292.8 L318.6 291.6 L320.1 291.0 L321.6 290.0 L323.1 289.6 L324.6 289.5 L326.1 289.0 L327.6 287.9 L329.1 286.6 L330.6 285.9 L332.1 284.8 L333.6 286.2 L335.1 286.8 L336.6 287.6 L338.1 287.8 L339.6 286.3 L341.2 284.9 L342.7 282.6 L344.2 280.7 L345.7 280.1 L347.2 278.5 L348.7 277.4 L350.2 275.4 L351.7 272.6 L353.2 269.4 L354.7 266.6 L356.2 264.6 L357.7 261.8 L359.2 260.1 L360.7 258.3 L362.2 256.5 L363.7 255.0 L365.2 252.8 L366.7 250.9 L368.2 248.3 L369.7 246.4 L371.2 245.3 L372.7 244.6 L374.2 243.7 L375.7 242.9 L377.2 243.2 L378.7 244.2 L380.2 244.5 L381.7 245.4 L383.2 245.4 L384.7 246.4 L386.2 246.2 L387.7 246.6 L389.2 245.7 L390.7 244.9 L392.3 243.6 L393.8 242.9 L395.3 241.3 L396.8 240.6 L398.3 240.1 L399.8 240.0 L401.3 240.2 L402.8 240.2 L404.3 240.5 L405.8 239.7 L407.3 242.6 L408.8 246.6 L410.3 251.3 L411.8 252.4 L413.3 252.9 L414.8 250.9 L416.3 249.9 L417.8 250.7 L419.3 251.6 L420.8 255.7 L422.3 262.4 L423.8 264.0 L425.3 259.6 L426.8 256.1 L428.3 254.9 L429.8 253.1 L431.3 252.0 L432.8 250.4 L434.3 250.5 L435.8 249.4 L437.3 248.4 L438.8 248.0 L440.3 248.6 L441.9 248.9 L443.4 248.3 L444.9 246.6 L446.4 244.7 L447.9 243.1 L449.4 241.9 L450.9 241.6 L452.4 242.1 L453.9 242.9 L455.4 243.3 L456.9 250.5 L458.4 253.8 L459.9 252.8 L461.4 249.7 L462.9 247.8 L464.4 246.1 L465.9 245.6 L467.4 244.9 L468.9 243.6 L470.4 241.2 L471.9 238.7 L473.4 235.7 L474.9 233.9 L476.4 231.7 L477.9 229.5 L479.4 228.1 L480.9 225.9 L482.4 223.9 L483.9 221.5 L485.4 220.0 L486.9 218.0 L488.4 216.0 L489.9 214.5 L491.5 213.6 L493.0 213.2 L494.5 213.1 L496.0 210.6 L497.5 207.1 L499.0 203.3 L500.5 205.2 L502.0 206.8 L503.5 209.3 L505.0 211.0 L506.5 215.8 L508.0 224.5 L509.5 236.5 L511.0 243.0 L512.5 241.8 L514.0 238.7 L515.5 234.6 L517.0 230.8 L518.5 227.2 L520.0 224.1 L521.5 221.8 L523.0 220.3 L524.5 218.6 L526.0 217.5 L527.5 216.2 L529.0 215.2 L530.5 213.7 L532.0 212.1 L533.5 210.8 L535.0 208.8 L536.5 206.5 L538.0 204.7 L539.5 203.6 L541.0 202.2 L542.6 200.3 L544.1 199.0 L545.6 197.7 L547.1 196.1 L548.6 194.1 L550.1 192.9 L551.6 191.1 L553.1 190.0 L554.6 189.5 L556.1 188.6 L557.6 188.2 L559.1 187.6 L560.6 187.0 L562.1 186.1 L563.6 185.2 L565.1 184.1 L566.6 182.5 L568.1 180.2 L569.6 177.8 L571.1 175.7 L572.6 173.5 L574.1 170.8 L575.6 168.6 L577.1 167.2 L578.6 166.7 L580.1 166.8 L581.6 165.8 L583.1 165.8 L584.6 164.9 L586.1 165.2 L587.6 166.2 L589.1 167.0 L590.6 168.5 L592.2 169.3 L593.7 169.1 L595.2 168.1 L596.7 166.3 L598.2 164.4 L599.7 162.8 L601.2 160.1 L602.7 157.9 L604.2 156.0 L605.7 155.4 L607.2 152.4 L608.7 149.6 L610.2 145.5 L611.7 141.7 L613.2 141.6 L614.7 141.0 L616.2 141.2 L617.7 141.8 L619.2 143.8 L620.7 144.9 L622.2 145.5 L623.7 145.7 L625.2 145.2 L626.7 144.1 L628.2 142.8 L629.7 141.7 L631.2 141.5 L632.7 143.3 L634.2 144.9 L635.7 145.8 L637.2 145.1 L638.7 143.2 L640.2 141.4 L641.8 139.4 L643.3 137.7 L644.8 136.3 L646.3 135.3 L647.8 134.4 L649.3 134.2 L650.8 134.3 L652.3 134.1 L653.8 132.8 L655.3 132.8 L656.8 132.2 L658.3 131.6 L659.8 131.0 L661.3 131.6 L662.8 132.2 L664.3 133.5 L665.8 133.7 L667.3 132.4 L668.8 132.2 L670.3 131.8 L671.8 132.6 L673.3 133.0 L674.8 132.5 L676.3 132.3 L677.8 131.8 L679.3 130.9 L680.8 130.5 L682.3 130.1 L683.8 129.0 L685.3 127.4 L686.8 126.3 L688.3 124.5 L689.8 123.5 L691.4 122.4 L692.9 121.8 L694.4 120.5 L695.9 119.6 L697.4 118.5 L698.9 117.5 L700.4 117.1 L701.9 116.0 L703.4 115.0 L704.9 114.1 L706.4 114.1 L707.9 115.9 L709.4 117.5 L710.9 118.5 L712.4 119.1 L713.9 119.6 L715.4 120.5 L716.9 121.0 L718.4 120.6 L719.9 120.5 L721.4 119.6 L722.9 119.2 L724.4 118.5 L725.9 118.2 L727.4 118.1 L728.9 119.0 L730.4 119.5 L731.9 119.4 L733.4 119.6 L734.9 119.0 L736.4 118.1 L737.9 119.2 L739.4 120.4 L740.9 121.0 L742.5 121.6 L744.0 121.3 L745.5 120.3 L747.0 119.0 L748.5 116.6 L750.0 115.5 L751.5 115.5 L753.0 114.3 L754.5 113.6 L756.0 112.4 L757.5 111.5 L759.0 111.2 L760.5 111.6 L762.0 111.5 L763.5 110.3 L765.0 108.7 L766.5 106.8 L768.0 104.8 L769.5 102.5 L771.0 101.2 L772.5 100.6 L774.0 98.7 L775.5 96.5 L777.0 94.7 L778.5 92.5 L780.0 91.5 L781.5 90.0 L783.0 90.6 L784.5 90.9 L786.0 91.6 L787.5 93.0 L789.0 93.0 L790.5 93.3 L792.1 93.4 L793.6 94.0 L795.1 92.8 L796.6 90.7 L798.1 88.5 L799.6 86.8 L801.1 83.6 L802.6 80.7 L804.1 79.0 L805.6 77.7 L807.1 77.1 L808.6 77.1 L810.1 76.5 L811.6 75.2 L813.1 75.1 L814.6 74.7 L816.1 73.8 L817.6 73.1 L819.1 74.0 L820.6 74.6 L822.1 75.5 L823.6 77.0 L825.1 75.5 L826.6 73.5 L828.1 72.4 L829.6 71.5 L831.1 70.0 L832.6 69.1 L834.1 67.6 L835.6 66.3 L837.1 64.9 L838.6 63.6 L840.1 62.4 L841.7 61.3 L843.2 60.5 L844.7 60.2 L846.2 58.7 L847.7 57.6 L849.2 57.6 L850.7 58.1 L852.2 58.5 L853.7 59.9 L855.2 61.0 L856.7 61.8 L858.2 62.4 L859.7 62.6 L861.2 63.2 L862.7 64.1 L864.2 67.1 L865.7 72.1 L867.2 77.4 L868.7 83.1 L870.2 83.5 L871.7 82.4 L873.0 81.0" fill="none" stroke="#df3611" stroke-width="2.5" stroke-linejoin="round" stroke-linecap="round"/>
</svg>
<div class="t leg" style="left:22.4px;top:-1.85px;letter-spacing:0.093px;">BITCOIN / USD, 1W, CAPRIOLE</div>
<div class="t leg" style="left:192.5px;top:-1.85px;letter-spacing:0.53px;"><span class="k">O</span><span class="r">68,792.00</span></div>
<div class="t leg" style="left:263px;top:-1.85px;letter-spacing:0.51px;"><span class="k">H</span><span class="r">70,089.99</span></div>
<div class="t leg" style="left:333px;top:-1.85px;letter-spacing:0.59px;"><span class="k">L</span><span class="r">66,569.58</span></div>
<div class="t leg" style="left:401.2px;top:-1.85px;letter-spacing:0.28px;"><span class="k">C</span><span class="r">68,117.59</span></div>
<div class="t leg" style="left:466.8px;top:-1.85px;letter-spacing:0.48px;"><span class="r">−674.41 (−0.98%)</span></div>
<div class="t leg" style="left:22.4px;top:14.95px;letter-spacing:0.39px;">Energy Value (0)</div>
<div class="t leg" style="left:117.5px;top:14.95px;letter-spacing:0.35px;color:#e9b949;">120,488.10</div>
<div class="t leg" style="left:184px;top:14.95px;letter-spacing:0.15px;color:#c8343c;">116,507.50</div>

<!-- logo -->
<svg class="t" style="left:18px;top:36px;" width="56" height="40" viewBox="0 0 56 40">
<path fill="#0a0a0a" stroke="#0a0a0a" stroke-width="0.5" stroke-linejoin="round" d="M4.13 22.22 L6.98 20.32 L10.16 18.73 L12.38 16.83 L13.65 14.92 L15.56 14.10 L17.46 14.92 L19.05 14.29 L21.59 13.21 L25.40 12.70 L28.57 12.70 L31.11 12.38 L32.70 10.79 L34.29 8.57 L36.83 6.98 L40.00 6.03 L43.17 5.21 L45.71 4.95 L47.30 5.40 L48.57 4.76 L49.84 5.71 L50.16 8.25 L49.84 10.79 L50.48 13.02 L50.79 14.92 L49.84 15.87 L48.57 15.24 L47.62 13.65 L46.67 12.38 L45.40 12.38 L43.81 13.33 L42.54 14.73 L44.44 15.87 L46.03 16.83 L46.22 19.05 L45.71 21.59 L45.08 23.81 L43.17 24.63 L40.63 24.76 L39.87 23.81 L40.95 22.98 L43.17 22.54 L43.81 20.32 L43.17 18.73 L41.90 19.05 L41.27 20.32 L39.37 20.95 L36.83 21.27 L33.02 21.27 L29.84 20.95 L26.67 20.32 L24.13 20.63 L22.86 21.90 L21.59 23.81 L19.05 25.40 L16.51 26.67 L15.24 28.57 L14.29 31.11 L13.33 33.65 L12.06 35.56 L11.11 34.60 L10.16 32.06 L11.11 30.48 L12.38 28.57 L13.33 26.03 L14.29 24.13 L15.56 22.86 L16.19 20.95 L16.63 19.05 L15.24 20.32 L12.70 21.90 L9.52 23.17 L6.35 23.17Z"/>
</svg>
<div class="t" id="cap" style="left:78.6px;top:38.2px;font-family:'DejaVu Serif Condensed','DejaVu Serif','Liberation Serif',serif;font-weight:bold;font-size:19.4px;line-height:24px;color:#0b0b0b;letter-spacing:0.3px;-webkit-text-stroke:0.4px #0b0b0b;">Capriole</div>
<div class="t" id="inv" style="left:79.4px;top:62.6px;font-size:6.6px;line-height:10px;letter-spacing:3.58px;color:#333;">INVESTMENTS</div>

<!-- axis labels -->
<div class="t ax" style="top:14.84px;">260,000.00</div>
<div class="t ax" style="top:50.50px;">160,000.00</div>
<div class="t ax" style="top:85.40px;">100,000.00</div>
<div class="t ax" style="top:150.34px;">41,000.00</div>
<div class="t ax" style="top:181.34px;">27,000.00</div>
<div class="t ax" style="top:214.98px;">17,000.00</div>
<div class="t ax" style="top:247.05px;">11,000.00</div>
<div class="t ax" style="top:280.34px;">7,000.00</div>
<div class="t ax" style="top:310.84px;">4,600.00</div>
<div class="t ax" style="top:339.91px;">3,100.00</div>
<div class="t ax" style="top:368.48px;">2,100.00</div>
<div class="t ax" style="top:398.48px;">1,400.00</div>
<div class="t ax" style="top:431.91px;">900.00</div>
<div class="t ax" style="top:464.20px;">580.00</div>
<div class="t ax" style="top:495.34px;">380.00</div>
<div class="t ax" style="top:529.27px;">240.00</div>
<div class="t ax" style="top:558.55px;">160.00</div>
<div class="t ax" style="top:587.84px;">108.00</div>

<!-- price labels -->
<div class="lab" style="left:897.3px;top:57px;width:187.3px;height:16.5px;background:#f7a21c;color:#2a2208;">
<span style="left:4.6px;top:-0.3px;font-size:11px;letter-spacing:0.35px;">Energy Value:Value</span><span style="left:119.3px;top:-0.3px;letter-spacing:0.53px;">120,488.10</span>
<i style="position:absolute;left:110.6px;top:0;width:1px;height:100%;background:#fbc565;"></i></div>
<div class="lab" style="left:901px;top:73.5px;width:183.6px;height:16px;background:#ea1c1f;color:#fff;">
<span style="left:4.9px;top:-0.7px;font-size:11px;letter-spacing:0.36px;">Energy Value:SMA</span><span style="left:115.6px;top:-0.7px;letter-spacing:0.5px;">116,507.50</span>
<i style="position:absolute;left:106.9px;top:0;width:1px;height:100%;background:#f58a8a;"></i></div>
<div class="lab" style="left:953.6px;top:112.8px;width:124.4px;height:16.2px;background:#e2384f;color:#fff;">
<span style="left:4.3px;top:-0.2px;font-size:11px;letter-spacing:0.11px;">BTCUSD</span><span style="left:62.1px;top:-0.2px;letter-spacing:0.78px;">68,117.59</span>
<i style="position:absolute;left:54.3px;top:0;width:1px;height:100%;background:#f2a0ac;"></i></div>

<!-- years -->
<div class="t yr" style="left:50.5px;top:605.7px;">2016</div>
<div class="t yr" style="left:128.8px;top:605.7px;">2017</div>
<div class="t yr" style="left:207.2px;top:605.7px;">2018</div>
<div class="t yr" style="left:285.5px;top:605.7px;">2019</div>
<div class="t yr" style="left:363.9px;top:605.7px;">2020</div>
<div class="t yr" style="left:442.2px;top:605.7px;">2021</div>
<div class="t yr" style="left:520.6px;top:605.7px;">2022</div>
<div class="t yr" style="left:598.9px;top:605.7px;">2023</div>
<div class="t yr" style="left:677.3px;top:605.7px;">2024</div>
<div class="t yr" style="left:755.6px;top:605.7px;">2025</div>
<div class="t yr" style="left:834px;top:605.7px;">2026</div>
<div class="t yr" style="left:912.3px;top:605.7px;">2027</div>
</body>
</html>
